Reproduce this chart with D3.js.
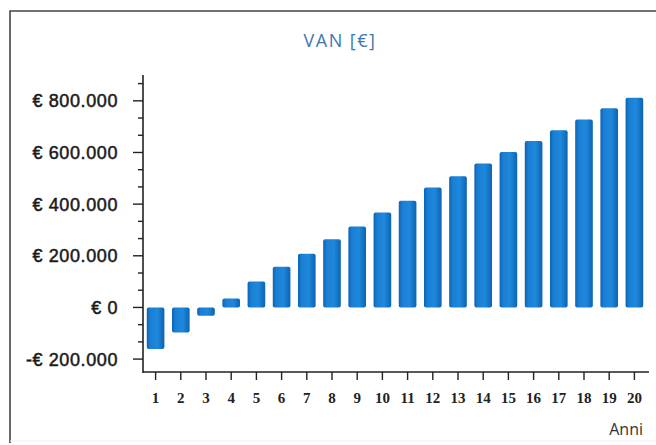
<!DOCTYPE html>
<html><head><meta charset="utf-8">
<script src="https://cdn.jsdelivr.net/npm/d3@7"></script>
<style>html,body{margin:0;padding:0;background:#fff;}svg{display:block;}</style>
</head><body>
<svg id="c" width="656" height="445"></svg>
<script>
const years = d3.range(1, 21).map(String);
const van = [-161000, -97000, -32000, 35000, 100000, 158000, 208000, 264000, 313000, 368000,
             413000, 464000, 508000, 557000, 602000, 644000, 686000, 728000, 771000, 812000];
const yTickValues = [-200000, 0, 200000, 400000, 600000, 800000];
const yTickLabels = ["-€ 200.000", "€ 0", "€ 200.000", "€ 400.000", "€ 600.000", "€ 800.000"];
const titleText = "VAN [€]";
const xTitle = "Anni";

(function () {
const svg = d3.select("#c");
const pL = 143, pR = 647, pT = 75, pB = 372;

const x = d3.scaleBand().domain(years).range([pL, pR]).paddingInner(0.3).paddingOuter(0.15);
const y = d3.scaleLinear().domain([-250000, 900000]).range([pB, pT]);

const defs = svg.append("defs");
const g = defs.append("linearGradient").attr("id", "bg").attr("x1", "0").attr("x2", "1").attr("y1", "0").attr("y2", "0");
g.append("stop").attr("offset", "0").attr("stop-color", "#0b63b2");
g.append("stop").attr("offset", "0.2").attr("stop-color", "#1a7fd4");
g.append("stop").attr("offset", "0.6").attr("stop-color", "#1f88dc");
g.append("stop").attr("offset", "1").attr("stop-color", "#0c64b0");

// frame
svg.append("path").attr("d", "M10,443 V11 H656").attr("fill", "none").attr("stroke", "#444").attr("stroke-width", 1.6);
svg.append("line").attr("x1", 10).attr("x2", 656).attr("y1", 441).attr("y2", 441).attr("stroke", "#eee").attr("stroke-width", 1);

// title
svg.append("text").attr("x", 340).attr("y", 47).attr("text-anchor", "middle")
  .attr("font-family", "'Open Sans', sans-serif").attr("font-size", 18).attr("letter-spacing", 1.5)
  .attr("fill", "#3f77ad").text(titleText);

// bars
svg.append("g").selectAll("rect").data(van).join("rect")
  .attr("x", (d, i) => x(years[i]))
  .attr("width", x.bandwidth())
  .attr("y", d => y(Math.max(0, d)))
  .attr("height", d => Math.abs(y(d) - y(0)))
  .attr("rx", 2)
  .attr("fill", "url(#bg)");

// y axis
const ax = svg.append("g").attr("stroke", "#222");
ax.append("line").attr("x1", pL).attr("x2", pL).attr("y1", pT).attr("y2", pB + 1).attr("stroke-width", 1.6);
const minor = d3.range(-200000, 900000, 200000 / 3).filter(v => Math.abs(v / 200000 - Math.round(v / 200000)) > 0.01);
ax.selectAll(".mi").data(minor).join("line").attr("x1", pL - 5).attr("x2", pL)
  .attr("y1", d => y(d)).attr("y2", d => y(d)).attr("stroke-width", 1.4);
ax.selectAll(".ma").data(yTickValues).join("line").attr("x1", pL - 10).attr("x2", pL)
  .attr("y1", d => y(d)).attr("y2", d => y(d)).attr("stroke-width", 1.4);
svg.append("g").selectAll("text").data(yTickValues).join("text")
  .attr("x", 118).attr("y", d => y(d) + 6.5).attr("text-anchor", "end")
  .attr("font-family", "'Liberation Sans', Arial, sans-serif").attr("font-size", 18).attr("letter-spacing", 0.6)
  .attr("fill", "#1a1a1a").attr("stroke", "#1a1a1a").attr("stroke-width", 0.5)
  .text((d, i) => yTickLabels[i]);

// x axis
ax.append("line").attr("x1", pL).attr("x2", 649).attr("y1", pB).attr("y2", pB).attr("stroke-width", 1.6);
ax.selectAll(".xt").data(years).join("line")
  .attr("x1", d => x(d) + x.bandwidth() / 2).attr("x2", d => x(d) + x.bandwidth() / 2)
  .attr("y1", pB).attr("y2", pB + 8).attr("stroke-width", 1.4);
svg.append("g").selectAll("text").data(years).join("text")
  .attr("x", d => x(d) + x.bandwidth() / 2).attr("y", 403).attr("text-anchor", "middle")
  .attr("font-family", "'Liberation Serif', serif").attr("font-weight", "bold").attr("font-size", 15)
  .attr("fill", "#222").text(d => d);

svg.append("text").attr("x", 643).attr("y", 435).attr("text-anchor", "end")
  .attr("font-family", "'Open Sans', sans-serif").attr("font-size", 16).attr("fill", "#333").text(xTitle);
})();
</script>
</body></html>
